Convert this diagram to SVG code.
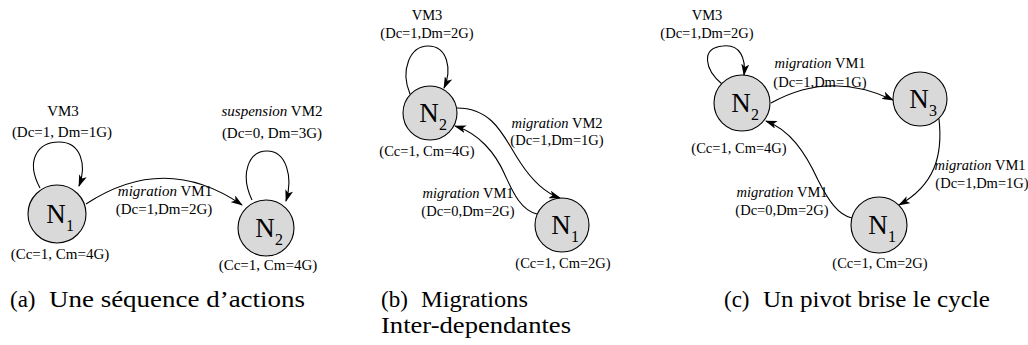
<svg xmlns="http://www.w3.org/2000/svg" width="1028" height="345" viewBox="0 0 1028 345">
<style>
.t{font-family:"Liberation Serif","Times New Roman",serif;font-size:15px;fill:#000;text-anchor:middle}
.s{font-size:14.5px}
.i{font-style:italic}
.nd{fill:#d9d9d9;stroke:#000;stroke-width:1.1}
.N{font-family:"Liberation Serif","Times New Roman",serif;font-size:27px;fill:#000;text-anchor:middle}
.sub{font-family:"Liberation Serif","Times New Roman",serif;font-size:16px;fill:#000}
.e{fill:none;stroke:#000;stroke-width:1.1;marker-end:url(#ah)}
.cap{font-family:"Liberation Serif","Times New Roman",serif;font-size:23px;fill:#000}
</style>
<defs>
<marker id="ah" markerUnits="userSpaceOnUse" viewBox="0 0 12 8" markerWidth="12" markerHeight="8" refX="11" refY="4" orient="auto">
<path d="M0,0 L12,4 L0,8 L3,4 z" fill="#000"/>
</marker>
</defs>

<g id="connectors">
<path class="e" d="M40 188 C25 160,38 142,59 142 C81 142,87 165,79 186"/>
<path class="e" d="M86 204 Q165 152 242 205"/>
<path class="e" d="M252 200 C240 175,248 151,267 151 C287 151,293 178,286 201"/>
<path class="e" d="M410 94 C400 70,410 46,428 46 C448 46,452 70,444 88"/>
<path class="e" d="M457 108 C495 108,505 140,520 162 C533 182,545 193,560 198"/>
<path class="e" d="M537 214 C520 210,512 190,505 175 C495 152,478 133,455 126"/>
<path class="e" d="M722 84 C705 70,700 48,723 46 C740 44,746 58,744 75"/>
<path class="e" d="M771 103 Q830 70 893 100"/>
<path class="e" d="M939 119 C943 155,935 185,899 205"/>
<path class="e" d="M852 218 C838 215,828 200,818 180 C805 152,790 130,766 121"/>
</g>

<g id="a-N1">
<circle class="nd" cx="57" cy="214" r="29"/>
<text class="N" x="56" y="223">N</text><text class="sub" x="66" y="231">1</text>
<text class="t" x="60" y="259">(Cc=1, Cm=4G)</text>
</g>
<g id="a-N2">
<circle class="nd" cx="266" cy="228" r="28"/>
<text class="N" x="265" y="237">N</text><text class="sub" x="275" y="245">2</text>
<text class="t" x="268" y="270">(Cc=1, Cm=4G)</text>
</g>
<g id="a-labels">
<text class="t" x="63" y="116">VM3</text>
<text class="t" x="62" y="137">(Dc=1, Dm=1G)</text>
<text class="t" x="165" y="196"><tspan class="i">migration</tspan> VM1</text>
<text class="t" x="164" y="214">(Dc=1,Dm=2G)</text>
<text class="t" x="272" y="116"><tspan class="i">suspension</tspan> VM2</text>
<text class="t" x="272" y="138">(Dc=0, Dm=3G)</text>
</g>

<g id="b-N2">
<circle class="nd" cx="430" cy="113" r="27"/>
<text class="N" x="429" y="122">N</text><text class="sub" x="439" y="130">2</text>
<text class="t s" x="427" y="156">(Cc=1, Cm=4G)</text>
</g>
<g id="b-N1">
<circle class="nd" cx="562" cy="225" r="27"/>
<text class="N" x="561" y="234">N</text><text class="sub" x="571" y="242">1</text>
<text class="t s" x="563" y="268">(Cc=1, Cm=2G)</text>
</g>
<g id="b-labels">
<text class="t s" x="427" y="20">VM3</text>
<text class="t s" x="427" y="38">(Dc=1,Dm=2G)</text>
<text class="t s" x="557" y="128"><tspan class="i">migration</tspan> VM2</text>
<text class="t s" x="557" y="145">(Dc=1,Dm=1G)</text>
<text class="t s" x="468" y="198"><tspan class="i">migration</tspan> VM1</text>
<text class="t s" x="468" y="216">(Dc=0,Dm=2G)</text>
</g>

<g id="c-N2">
<circle class="nd" cx="742" cy="103" r="28"/>
<text class="N" x="741" y="112">N</text><text class="sub" x="751" y="120">2</text>
<text class="t s" x="739" y="153">(Cc=1, Cm=4G)</text>
</g>
<g id="c-N3">
<circle class="nd" cx="920" cy="99" r="27"/>
<text class="N" x="919" y="108">N</text><text class="sub" x="929" y="116">3</text>
</g>
<g id="c-N1">
<circle class="nd" cx="879" cy="225" r="28"/>
<text class="N" x="878" y="234">N</text><text class="sub" x="888" y="242">1</text>
<text class="t s" x="880" y="268">(Cc=1, Cm=2G)</text>
</g>
<g id="c-labels">
<text class="t s" x="707" y="20">VM3</text>
<text class="t s" x="707" y="38">(Dc=1,Dm=2G)</text>
<text class="t s" x="820" y="68"><tspan class="i">migration</tspan> VM1</text>
<text class="t s" x="820" y="87">(Dc=1,Dm=1G)</text>
<text class="t s" x="980" y="170"><tspan class="i">migration</tspan> VM1</text>
<text class="t s" x="982" y="188">(Dc=1,Dm=1G)</text>
<text class="t s" x="782" y="197"><tspan class="i">migration</tspan> VM1</text>
<text class="t s" x="782" y="215">(Dc=0,Dm=2G)</text>
</g>

<g id="captions">
<text class="cap" x="10" y="307">(a)</text>
<text class="cap" x="49" y="307" textLength="256" lengthAdjust="spacingAndGlyphs">Une séquence d’actions</text>
<text class="cap" x="381" y="307">(b)</text>
<text class="cap" x="421" y="307" textLength="107" lengthAdjust="spacingAndGlyphs">Migrations</text>
<text class="cap" x="381" y="333" textLength="190" lengthAdjust="spacingAndGlyphs">Inter-dependantes</text>
<text class="cap" x="724" y="307">(c)</text>
<text class="cap" x="763" y="307" textLength="227" lengthAdjust="spacingAndGlyphs">Un pivot brise le cycle</text>
</g>
</svg>
